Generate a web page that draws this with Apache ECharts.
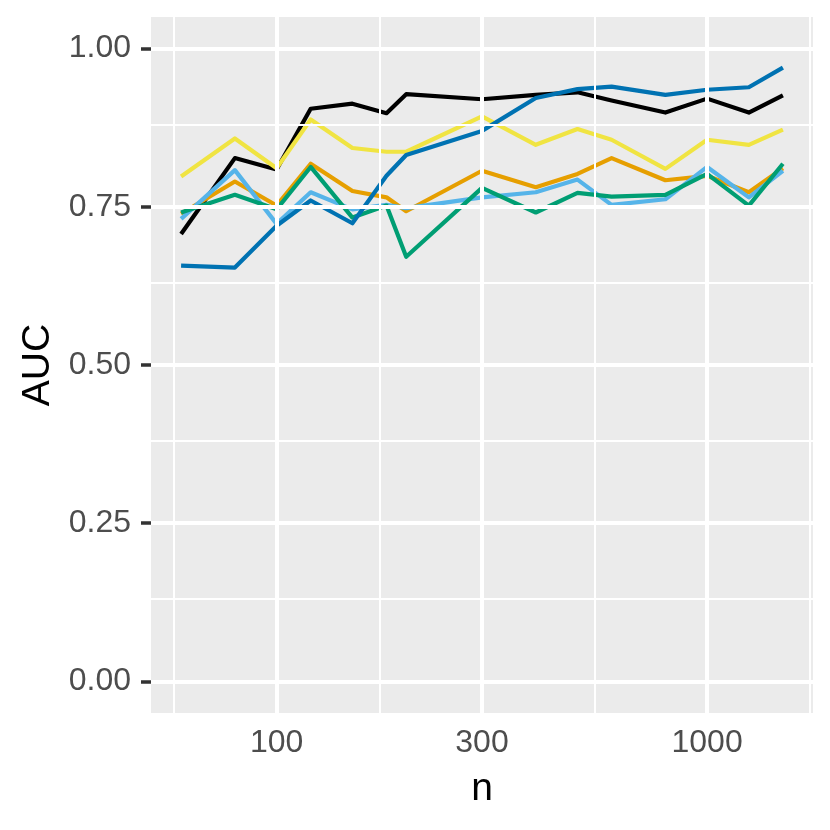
<!DOCTYPE html>
<html>
<head>
<meta charset="utf-8">
<script src="https://cdn.jsdelivr.net/npm/echarts@6/dist/echarts.min.js"></script>
<style>html,body{margin:0;padding:0;background:#fff}#c{width:830px;height:830px}</style>
</head>
<body>
<div id="c"></div>
<script>
// ---- data ----
var nValues = [60, 80, 100, 120, 150, 180, 200, 300, 400, 500, 600, 800, 1000, 1250, 1500];
var aucBlack  = [0.707, 0.827, 0.809, 0.905, 0.913, 0.898, 0.928, 0.920, 0.927, 0.931, 0.918, 0.899, 0.921, 0.899, 0.926];
var aucOrange = [0.739, 0.790, 0.752, 0.818, 0.775, 0.765, 0.743, 0.807, 0.781, 0.802, 0.827, 0.792, 0.799, 0.773, 0.811];
var aucSky    = [0.731, 0.808, 0.723, 0.773, 0.746, 0.753, 0.748, 0.765, 0.773, 0.793, 0.753, 0.762, 0.813, 0.765, 0.807];
var aucGreen  = [0.741, 0.769, 0.746, 0.813, 0.733, 0.752, 0.671, 0.780, 0.741, 0.772, 0.766, 0.769, 0.802, 0.752, 0.818];
var aucYellow = [0.798, 0.858, 0.811, 0.888, 0.843, 0.837, 0.837, 0.893, 0.848, 0.873, 0.856, 0.810, 0.856, 0.848, 0.872];
var aucBlue   = [0.657, 0.654, 0.720, 0.760, 0.724, 0.799, 0.832, 0.870, 0.922, 0.936, 0.940, 0.927, 0.935, 0.939, 0.970];

var xMajorTicks = [100, 300, 1000];
var xMinorTicks = [57.735, 173.205, 547.723, 1732.05];
var yMajorTicks = [0, 0.25, 0.5, 0.75, 1.0];
var yMinorTicks = [0.125, 0.375, 0.625, 0.875];

var seriesList = [
  {name: 'black',  color: '#000000', values: aucBlack},
  {name: 'orange', color: '#E69F00', values: aucOrange},
  {name: 'sky',    color: '#56B4E9', values: aucSky},
  {name: 'green',  color: '#009E73', values: aucGreen},
  {name: 'yellow', color: '#F0E442', values: aucYellow},
  {name: 'blue',   color: '#0072B2', values: aucBlue}
];

// ggplot-like 5% expansion in log space
var lo = Math.log10(nValues[0]), hi = Math.log10(nValues[nValues.length - 1]);
var pad = 0.05 * (hi - lo);
var xMin = Math.pow(10, lo - pad), xMax = Math.pow(10, hi + pad);

var FONT = "'Liberation Sans', Arial, Helvetica, sans-serif";

var gridLines = [];
xMinorTicks.forEach(function (v) { gridLines.push({xAxis: v, lineStyle: {color: '#fff', width: 2, type: 'solid'}}); });
yMinorTicks.forEach(function (v) { gridLines.push({yAxis: v, lineStyle: {color: '#fff', width: 2, type: 'solid'}}); });
xMajorTicks.forEach(function (v) { gridLines.push({xAxis: v, lineStyle: {color: '#fff', width: 4, type: 'solid'}}); });
yMajorTicks.forEach(function (v) { gridLines.push({yAxis: v, lineStyle: {color: '#fff', width: 4, type: 'solid'}}); });

var series = [{
  type: 'line', data: [], z: 1, silent: true,
  markLine: {silent: true, symbol: ['none', 'none'], label: {show: false}, animation: false, data: gridLines}
}];
seriesList.forEach(function (s) {
  series.push({
    name: s.name, type: 'line', z: 3, symbol: 'none', animation: false,
    lineStyle: {color: s.color, width: 4.2, cap: 'butt', join: 'round'},
    itemStyle: {color: s.color},
    data: nValues.map(function (n, i) { return [n, s.values[i]]; })
  });
});

var chart = echarts.init(document.getElementById('c'), null, {renderer: 'canvas'});
chart.setOption({
  animation: false,
  backgroundColor: '#ffffff',
  grid: {left: 151, top: 17, right: 17, bottom: 117, show: true, backgroundColor: '#EBEBEB', borderWidth: 0, containLabel: false},
  xAxis: {
    type: 'log', logBase: 10, min: xMin, max: xMax,
    name: 'n', nameLocation: 'middle', nameGap: 57,
    nameTextStyle: {fontSize: 39, color: '#000', fontFamily: FONT},
    axisLine: {show: false},
    splitLine: {show: false}, minorSplitLine: {show: false},
    axisTick: {show: true, customValues: xMajorTicks, length: 10, lineStyle: {color: '#333333', width: 3.5}},
    axisLabel: {show: true, customValues: xMajorTicks, margin: 14, fontSize: 32, color: '#4D4D4D', fontFamily: FONT,
      formatter: function (v) { return String(Math.round(v)); }}
  },
  yAxis: {
    type: 'value', min: -0.05, max: 1.05,
    name: 'AUC', nameLocation: 'middle', nameGap: 93, nameRotate: 90,
    nameTextStyle: {fontSize: 39, color: '#000', fontFamily: FONT},
    axisLine: {show: false},
    splitLine: {show: false},
    axisTick: {show: true, customValues: yMajorTicks, length: 10, lineStyle: {color: '#333333', width: 3.5}},
    axisLabel: {show: true, customValues: yMajorTicks, margin: 20, fontSize: 32, color: '#4D4D4D', fontFamily: FONT,
      formatter: function (v) { return Number(v).toFixed(2); }}
  },
  series: series
});
</script>
</body>
</html>
